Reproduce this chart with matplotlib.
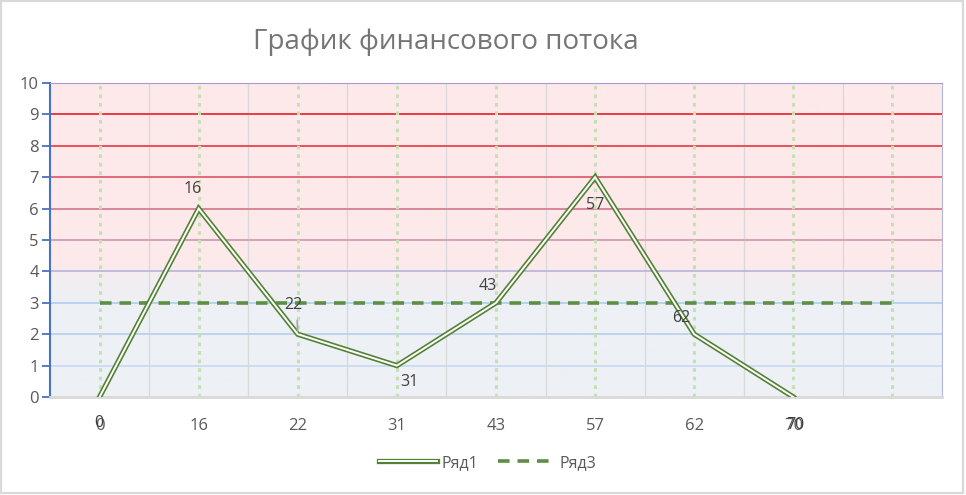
import numpy as np
import matplotlib
matplotlib.use("Agg")
import matplotlib.pyplot as plt
from matplotlib.colors import LinearSegmentedColormap
from matplotlib.patches import Rectangle
from matplotlib.lines import Line2D
from matplotlib.legend_handler import HandlerTuple

plt.rcParams['font.family'] = ['Open Sans', 'DejaVu Sans']

# data
categories = ['0', '16', '22', '31', '43', '57', '62', '70', '']
row1 = [0, 6, 2, 1, 3, 7, 2, 0]
row3 = [3, 3, 3, 3, 3, 3, 3, 3, 3]
point_labels = ['0', '16', '22', '31', '43', '57', '62', '70']
# label offsets in points (dx, dy) relative to each point
label_offsets = [(-0.5, -19), (-4, 14), (-3, 21), (9, -12), (-6, 12), (0, -20), (-9, 12), (1.5, -20)]

grid_colors = {1: '#c9dcf1', 2: '#b9d1ed', 3: '#b4d0ee', 4: '#bcb6da', 5: '#cf9fb1',
               6: '#d37f90', 7: '#e0606e', 8: '#ea434c', 9: '#ea2d36'}

fig = plt.figure(figsize=(9.66, 4.95), dpi=100)
fig.patch.set_facecolor('white')
fig.add_artist(Rectangle((0.001, 0.004), 0.996, 0.994, transform=fig.transFigure,
                         fill=False, edgecolor='#d9d9d9', linewidth=1.6))

ax = fig.add_axes([50/966, 1-397/495, 892/966, 314/495])
n = len(categories)
x = np.arange(n)
ax.set_xlim(-0.5, n - 0.5)
ax.set_ylim(0, 10)

# background gradient
cmap = LinearSegmentedColormap.from_list('bg', [(0.0, '#eef0f5'), (0.3, '#edf0f4'),
                                               (0.4, '#f4edf0'), (0.42, '#fde9ea'),
                                               (1.0, '#fde9ea')])
grad = np.linspace(0, 1, 300).reshape(-1, 1)
ax.imshow(grad, extent=[-0.5, n - 0.5, 0, 10], origin='lower', aspect='auto',
          cmap=cmap, zorder=0)

# grid
for b in np.arange(0.5, n - 0.5, 1):
    ax.axvline(b, color='#d9d9d9', linewidth=0.9, zorder=1)
for v, c in grid_colors.items():
    ax.axhline(v, color=c, linewidth=1.3, zorder=1)
for xi in x:
    ax.axvline(xi, color='#c5e0b4', linewidth=2.2, linestyle=(0, (1.2, 1.6)), zorder=2)

# series
xr = np.arange(len(row1))
ax.plot(xr, row1, color='#548235', linewidth=3.8, zorder=4, solid_joinstyle='miter')
ax.plot(xr, row1, color='white', linewidth=1.4, zorder=5, solid_joinstyle='miter')
ax.plot(x, row3, color='#5e8d44', linewidth=2.6, linestyle=(0, (3.2, 2.2)), zorder=3)

for xi, yi, lab, (dx, dy) in zip(xr, row1, point_labels, label_offsets):
    ax.annotate(lab, (xi, yi), xytext=(dx, dy), textcoords='offset points',
                ha='center', va='center', fontsize=11.5, color='#404040', zorder=6,
                annotation_clip=False)
# leader line for the 22 label
ax.annotate('', (2, 2), xytext=(-0.5, 12), textcoords='offset points',
            arrowprops=dict(arrowstyle='-', color='#a6a6a6', linewidth=1.2), zorder=6)

# axes styling
ax.spines['top'].set_color('#a59bd6')
ax.spines['right'].set_color('#b4b8d8')
ax.spines['bottom'].set_color('#d9d9d9')
ax.spines['bottom'].set_linewidth(2)
ax.spines['left'].set_color('#4472c4')
ax.spines['left'].set_linewidth(1.5)
ax.set_yticks(range(0, 11))
ax.tick_params(axis='y', colors='#4472c4', length=6, width=1.3, labelcolor='#595959',
               labelsize=12, pad=2)
ax.set_xticks(x)
ax.set_xticklabels(categories)
ax.tick_params(axis='x', length=0, labelcolor='#595959', labelsize=12, pad=15)

fig.text(446/966, 1-42/495, 'График финансового потока', ha='center', va='center',
         fontsize=20, color='#757575')

# legend
h1 = (Line2D([], [], color='#548235', linewidth=3.8), Line2D([], [], color='white', linewidth=1.4))
h3 = Line2D([], [], color='#5e8d44', linewidth=2.6, linestyle=(0, (3.2, 2.2)))
fig.legend([h1, h3], ['Ряд1', 'Ряд3'], handler_map={tuple: HandlerTuple(ndivide=1)},
           loc='center', bbox_to_anchor=(488/966, 1-463/495), ncol=2, frameon=False,
           fontsize=11.5, labelcolor='#595959', handlelength=3.6, handletextpad=0.3,
           columnspacing=1.2)

fig.savefig('out.png', dpi=100)
